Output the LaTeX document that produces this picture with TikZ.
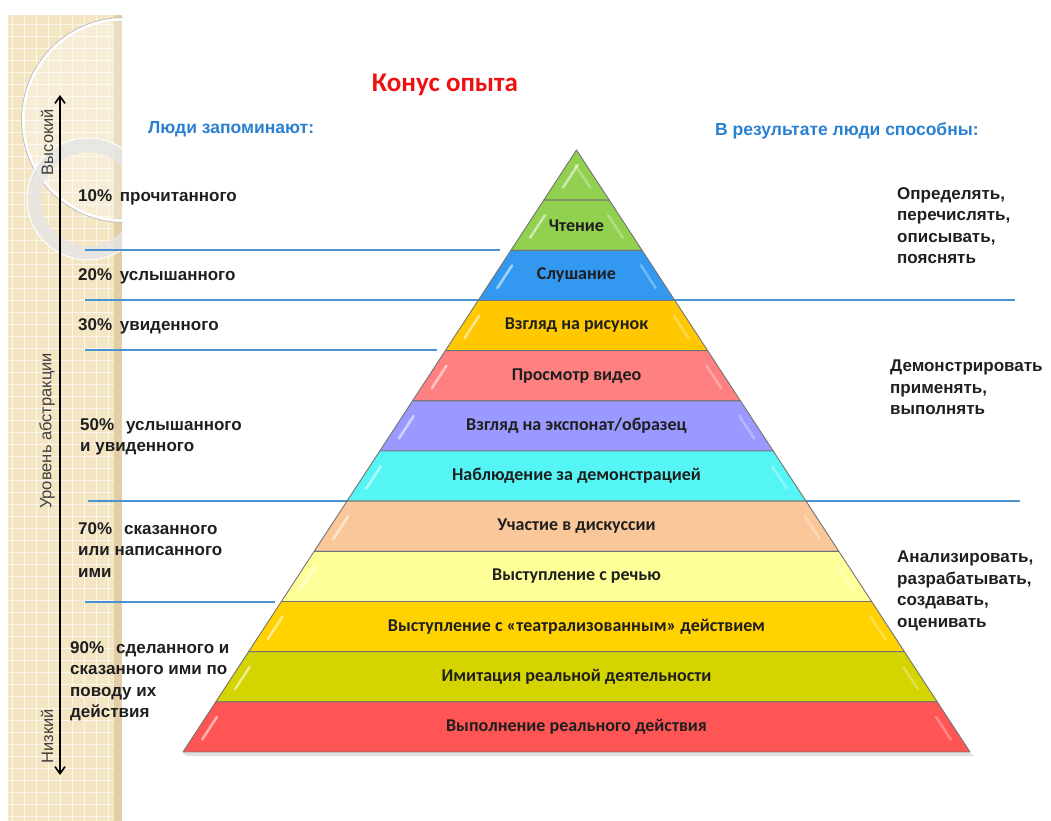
\documentclass[tikz,border=0pt]{standalone}
\usepackage{fontspec}
\setmainfont{Liberation Sans}
\newfontfamily\calfont{Carlito}
\usetikzlibrary{calc,arrows.meta}
\definecolor{cGreen}{HTML}{92D050}
\definecolor{cBlue}{HTML}{3399F0}
\definecolor{cGold}{HTML}{FFC800}
\definecolor{cPink}{HTML}{FF8080}
\definecolor{cLilac}{HTML}{9999FF}
\definecolor{cCyan}{HTML}{55F5F5}
\definecolor{cPeach}{HTML}{FAC79A}
\definecolor{cLemon}{HTML}{FFFF99}
\definecolor{cAmber}{HTML}{FFD200}
\definecolor{cOlive}{HTML}{D4D400}
\definecolor{cRed}{HTML}{FF5555}
\definecolor{lineblue}{HTML}{4A93D3}
\definecolor{headblue}{HTML}{2A80D0}
\definecolor{titlered}{HTML}{EE1111}
\definecolor{strip}{HTML}{F4E5C3}
\definecolor{stripedge}{HTML}{E2CFA8}
\newcommand{\pc}{\hspace{0.45em}}
\newcommand{\pcc}{\hspace{0.7em}}
\tikzset{
  band/.style={draw=black!55,line width=0.9pt,line join=round},
  gloss/.style={white,opacity=0.55,line width=2.5pt,line cap=round},
  blueline/.style={lineblue,line width=1.4pt},
  laytxt/.style={font=\calfont\bfseries\fontsize{18}{20}\selectfont,text=black!88,inner sep=0pt},
  sidetxt/.style={font=\bfseries\fontsize{17}{21.5}\selectfont,text=black!88,align=left,inner sep=0pt},
  headtxt/.style={font=\bfseries\fontsize{17.5}{20}\selectfont,text=headblue,inner sep=0pt},
  axistxt/.style={font=\fontsize{16.5}{18}\selectfont,text=black!75,rotate=90,inner sep=0pt}
}
\begin{document}
\begin{tikzpicture}[x=1pt,y=-1pt]
\useasboundingbox (0,0) rectangle (1051,821);
% left strip
\fill[strip] (8,15) rectangle (122,821);
\draw[white,opacity=0.7,line width=0.8pt,step=12pt] (8,15) grid (114,821);
\fill[stripedge] (114,15) rectangle (122,821);
\begin{scope}
  \clip (8,15) rectangle (122,821);
  \fill[white,opacity=0.3] (124,120) circle (101pt);
  \draw[white,line width=3pt] (124,120) circle (101pt);
  \draw[black!25,line width=0.8pt] (124,120) circle (102.5pt);
  \draw[black!10,opacity=0.8,line width=14pt] (88,199) circle (54pt);
  \draw[white,line width=1pt] (88,199) circle (61pt);
\end{scope}
\coordinate (hi) at (60,95);
\coordinate (lo) at (60,775);
\draw[line width=1.6pt,{Straight Barb[length=7pt,width=10pt]}-{Straight Barb[length=7pt,width=10pt]}] (lo) -- (hi);
\node[axistxt] (high) at (47,142) {Высокий};
\node[axistxt] (level) at (47,431) {Уровень абстракции};
\node[axistxt] (low) at (47,736) {Низкий};
% headings
\node[font=\calfont\bfseries\fontsize{27}{30}\selectfont,text=titlered,inner sep=0pt] (title) at (445,85) {Конус опыта};
\node[headtxt,anchor=west] (remember) at (148,129) {Люди запоминают:};
\node[headtxt,anchor=west] (able) at (715,131) {В результате люди способны:};
% blue lines
\draw[blueline] (85,250) -- (500,250);
\draw[blueline] (85,300) -- (1015,300);
\draw[blueline] (85,350) -- (437,350);
\draw[blueline] (88,501) -- (1020,501);
\draw[blueline] (85,602) -- (275,602);
% pyramid
\coordinate (A) at (576.5,150);
\coordinate (BL) at (183,752);
\coordinate (BR) at (970,752);
\coordinate (AB) at (576.5,752);
\fill[black!12] ($(BL)+(4,4)$) -- ($(BR)+(4,4)$) -- ($(BR)+(0,1)$) -- ($(BL)+(0,1)$) -- cycle;
\foreach \k/\col in {0/cGreen,1/cGreen,2/cBlue,3/cGold,4/cPink,5/cLilac,6/cCyan,7/cPeach,8/cLemon,9/cAmber,10/cOlive,11/cRed}{
  \pgfmathsetmacro\t{\k/12}
  \pgfmathsetmacro\u{(\k+1)/12}
  \pgfmathsetmacro\p{(\k+0.3)/12}
  \pgfmathsetmacro\q{(\k+0.75)/12}
  \filldraw[band,fill=\col] ($(A)!\t!(BL)$) -- ($(A)!\t!(BR)$) -- ($(A)!\u!(BR)$) -- ($(A)!\u!(BL)$) -- cycle;
  \draw[gloss] ($(A)!\q!(BL)+(11,0)$) -- ($(A)!\p!(BL)+(11,0)$);
  \draw[gloss,opacity=0.3] ($(A)!\q!(BR)+(-11,0)$) -- ($(A)!\p!(BR)+(-11,0)$);
}
\foreach \k/\lab in {1/Чтение,2/Слушание,3/Взгляд на рисунок,4/Просмотр видео,5/{Взгляд на экспонат/образец},6/Наблюдение за демонстрацией,7/Участие в дискуссии,8/Выступление с речью,9/Выступление с «театрализованным» действием,10/Имитация реальной деятельности,11/Выполнение реального действия}{
  \pgfmathsetmacro\m{(\k+0.5)/12}
  \node[laytxt] (lay\k) at ($(A)!\m!(AB)$) {\lab};
}
% left texts
\node[sidetxt,anchor=north west] (r10) at (78,189) {10\%\pc прочитанного};
\node[sidetxt,anchor=north west] (r20) at (78,268) {20\%\pc услышанного};
\node[sidetxt,anchor=north west] (r30) at (78,318) {30\%\pc увиденного};
\node[sidetxt,anchor=north west] (r50) at (80,418) {50\%\pcc услышанного\\и увиденного};
\node[sidetxt,anchor=north west] (r70) at (78,522) {70\%\pcc сказанного\\или написанного\\ими};
\node[sidetxt,anchor=north west] (r90) at (70,641) {90\%\pcc сделанного и\\сказанного ими по\\поводу их\\действия};
% right texts
\node[sidetxt,anchor=north west] (g1) at (897,187) {Определять,\\перечислять,\\описывать,\\пояснять};
\node[sidetxt,anchor=north west] (g2) at (890,360) {Демонстрировать\\применять,\\выполнять};
\node[sidetxt,anchor=north west] (g3) at (897,551) {Анализировать,\\разрабатывать,\\создавать,\\оценивать};
\end{tikzpicture}
\end{document}
